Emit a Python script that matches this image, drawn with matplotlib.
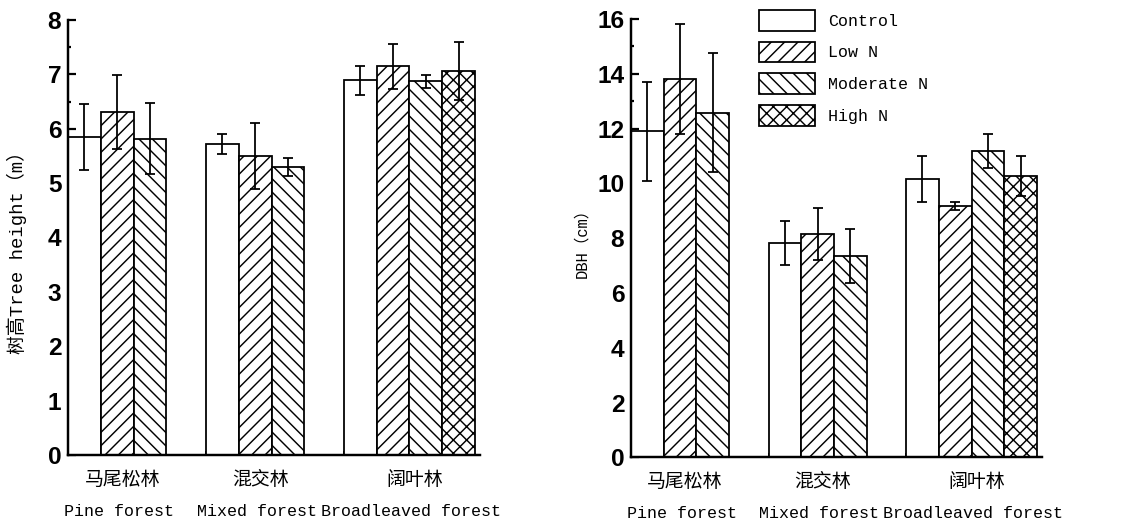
import numpy as np
import matplotlib.pyplot as plt
import matplotlib.patches as mpatches
from matplotlib.ticker import MultipleLocator, FixedLocator
from matplotlib.transforms import blended_transform_factory

forests_cn = ['马尾松林', '混交林', '阔叶林']
forests_en = ['Pine forest', 'Mixed forest', 'Broadleaved forest']
treatments = ['Control', 'Low N', 'Moderate N', 'High N']

# tree height (m), per treatment over the three forests
height_control = [5.85, 5.72, 6.89]
height_low = [6.30, 5.50, 7.15]
height_moderate = [5.82, 5.30, 6.87]
height_high = [np.nan, np.nan, 7.06]
height_control_err = [0.60, 0.18, 0.27]
height_low_err = [0.68, 0.60, 0.41]
height_moderate_err = [0.66, 0.17, 0.12]
height_high_err = [np.nan, np.nan, 0.53]

# DBH (cm)
dbh_control = [11.90, 7.82, 10.16]
dbh_low = [13.82, 8.15, 9.18]
dbh_moderate = [12.58, 7.35, 11.19]
dbh_high = [np.nan, np.nan, 10.27]
dbh_control_err = [1.80, 0.80, 0.85]
dbh_low_err = [2.00, 0.95, 0.14]
dbh_moderate_err = [2.17, 1.00, 0.63]
dbh_high_err = [np.nan, np.nan, 0.73]

hatches = ['', '//', '\\\\', 'xx']
MONO = ['Liberation Mono', 'Noto Sans CJK SC']
CJK = ['Noto Sans CJK SC', 'DejaVu Sans']

plt.rcParams['hatch.linewidth'] = 1.3

group_gap = 0.2
starts = np.arange(len(forests_cn)) * (len(treatments) + group_gap)


def draw_panel(ax, means, errs, ymax, major, minor):
    for j, (m, e) in enumerate(zip(means, errs)):
        m = np.asarray(m, float)
        e = np.asarray(e, float)
        ok = ~np.isnan(m)
        x = starts[ok] + j
        ax.bar(x, m[ok], width=1.0, align='edge', facecolor='white',
               edgecolor='black', linewidth=1.6, hatch=hatches[j], zorder=2)
        ax.errorbar(x + 0.5, m[ok], yerr=e[ok], fmt='none', ecolor='black',
                    elinewidth=1.6, capsize=4.5, capthick=1.6, zorder=3)

    ax.set_xlim(0, starts[-1] + len(treatments) + 0.15)
    ax.set_ylim(0, ymax)
    ax.spines['top'].set_visible(False)
    ax.spines['right'].set_visible(False)
    ax.spines['left'].set_linewidth(2.2)
    ax.spines['bottom'].set_linewidth(2.2)

    ax.yaxis.set_major_locator(MultipleLocator(major))
    ax.yaxis.set_minor_locator(MultipleLocator(minor))
    ax.tick_params(axis='y', which='major', direction='in', length=7,
                   width=2, pad=6, labelsize=22)
    ax.tick_params(axis='y', which='minor', direction='in', length=2.5, width=2)
    for lab in ax.get_yticklabels():
        lab.set_fontfamily('Liberation Sans')
        lab.set_fontweight('bold')

    ax.xaxis.set_major_locator(FixedLocator([]))
    ax.xaxis.set_minor_locator(FixedLocator(starts[1:]))
    ax.tick_params(axis='x', which='minor', direction='in', length=4, width=1.5)

    trans = blended_transform_factory(ax.transData, ax.transAxes)
    for i in range(len(forests_cn)):
        nb = sum(1 for m in means if not np.isnan(m[i]))
        cx = starts[i] + nb / 2 + 0.15
        ax.annotate(forests_cn[i], xy=(cx, 0), xycoords=trans, xytext=(0, -22),
                    textcoords='offset points', ha='center', va='center',
                    family=CJK, fontsize=17)
        ax.annotate(forests_en[i], xy=(cx - 0.1, 0), xycoords=trans, xytext=(0, -51),
                    textcoords='offset points', ha='center', va='center',
                    family=MONO, fontsize=15)


fig = plt.figure(figsize=(1124 / 80, 529 / 80), dpi=80)
ax1 = fig.add_axes([68 / 1124, 74 / 529, 412 / 1124, 435 / 529])
ax2 = fig.add_axes([631 / 1124, 71.7 / 529, 411 / 1124, 438.3 / 529])

draw_panel(ax1,
           [height_control, height_low, height_moderate, height_high],
           [height_control_err, height_low_err, height_moderate_err, height_high_err],
           8, 1, 0.5)
draw_panel(ax2,
           [dbh_control, dbh_low, dbh_moderate, dbh_high],
           [dbh_control_err, dbh_low_err, dbh_moderate_err, dbh_high_err],
           16, 2, 1)

fig.text(17 / 1124, 1 - 247.5 / 529, '树高Tree height（m）', rotation=90,
         ha='center', va='center', family=MONO, fontsize=17)
fig.text(582 / 1124, 1 - 239.5 / 529, 'DBH（cm）', rotation=90,
         ha='center', va='center', family=MONO, fontsize=14)

handles = [mpatches.Patch(facecolor='white', edgecolor='black', linewidth=1.6,
                          hatch=h) for h in hatches]
ax2.legend(handles, treatments, loc='upper left',
           bbox_to_anchor=(759 / 1124, 1 - 10 / 529), bbox_transform=fig.transFigure,
           frameon=False, borderpad=0, borderaxespad=0, handlelength=3.35,
           handleheight=1.53, labelspacing=0.66, handletextpad=0.8,
           prop={'family': MONO, 'size': 15})

fig.savefig('out.png', dpi=80, facecolor='white')
